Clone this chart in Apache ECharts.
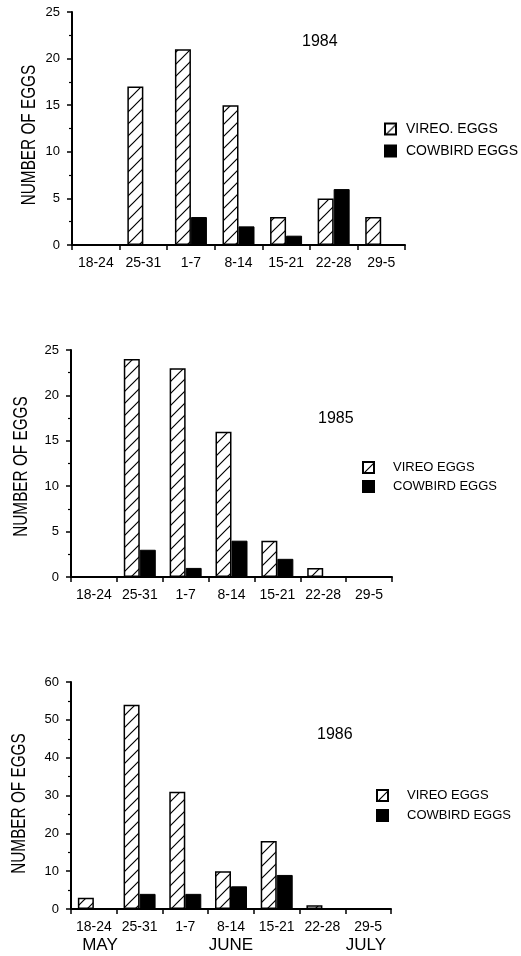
<!DOCTYPE html>
<html>
<head>
<meta charset="utf-8">
<script src="https://cdn.jsdelivr.net/npm/echarts@6/dist/echarts.min.js"></script>
<style>
html,body{margin:0;padding:0;background:#fff;}
#c{width:521px;height:956px;}
</style>
</head>
<body>
<div id="c"></div>
<script>
// ---- data ----
const categories = ['18-24', '25-31', '1-7', '8-14', '15-21', '22-28', '29-5'];
const years = ['1984', '1985', '1986'];
const vireo1984 = [0, 17, 21, 15, 3, 5, 3];
const cowbird1984 = [0, 0, 3, 2, 1, 6, 0];
const vireo1985 = [0, 24, 23, 16, 4, 1, 0];
const cowbird1985 = [0, 3, 1, 4, 2, 0, 0];
const vireo1986 = [3, 54, 31, 10, 18, 1, 0];
const cowbird1986 = [0, 4, 4, 6, 9, 0, 0];
const yMax = [25, 25, 60];
const yInterval = [5, 5, 10];
const months = ['MAY', 'JUNE', 'JULY'];
const vireoNames = ['VIREO. EGGS', 'VIREO EGGS', 'VIREO EGGS'];
const cowbirdName = 'COWBIRD EGGS';
const yTitle = 'NUMBER OF EGGS';

// ---- layout ----
const grids = [
  {left: 72, top: 12, width: 333, height: 233},
  {left: 71, top: 350, width: 321, height: 227},
  {left: 71, top: 682, width: 320, height: 227}
];
const titlePos = [{left: 302, top: 34}, {left: 318, top: 411}, {left: 317, top: 727}];
const legendPos = [
  {left: 384, top: 122, gap: 8, pad: 5, size: 14},
  {left: 362, top: 461, gap: 6, pad: 14, size: 13},
  {left: 376, top: 789, gap: 7, pad: 14, size: 13}
];
const yTitlePos = [{x: 29.5, y: 135}, {x: 21, y: 466.5}, {x: 19, y: 803.5}];
const monthX = [100, 231, 366];

// hatch pattern
function hatch() {
  const s = 12;
  const cv = document.createElement('canvas');
  cv.width = s; cv.height = s;
  const ctx = cv.getContext('2d');
  ctx.fillStyle = '#fff';
  ctx.fillRect(0, 0, s, s);
  ctx.strokeStyle = '#000';
  ctx.lineWidth = 1.2;
  ctx.beginPath();
  ctx.moveTo(-2, s + 2); ctx.lineTo(s + 2, -2);
  ctx.moveTo(-2, 2); ctx.lineTo(2, -2);
  ctx.moveTo(s - 2, s + 2); ctx.lineTo(s + 2, s - 2);
  ctx.stroke();
  return {image: cv, repeat: 'repeat'};
}
const hatchFill = hatch();

const vireoData = [vireo1984, vireo1985, vireo1986];
const cowbirdData = [cowbird1984, cowbird1985, cowbird1986];

const FONT = 'Liberation Sans, Arial, Helvetica, sans-serif';

const option = {
  animation: false,
  backgroundColor: '#fff',
  textStyle: {fontFamily: FONT, color: '#000'},
  title: years.map((y, i) => ({
    text: y, left: titlePos[i].left, top: titlePos[i].top, padding: 0,
    textStyle: {fontFamily: FONT, fontSize: 16, fontWeight: 'normal', color: '#000'}
  })),
  legend: years.map((y, i) => ({
    data: [vireoNames[i], cowbirdName],
    orient: 'vertical',
    left: legendPos[i].left, top: legendPos[i].top, padding: 0,
    itemWidth: 11, itemHeight: 11, itemGap: legendPos[i].gap,
    icon: 'rect',
    selectedMode: false,
    textStyle: {fontFamily: FONT, fontSize: legendPos[i].size, color: '#000', lineHeight: 12,
      padding: [0, 0, 0, legendPos[i].pad]}
  })),
  grid: grids.map(g => Object.assign({containLabel: false}, g)),
  xAxis: years.map((y, i) => ({
    type: 'category', gridIndex: i, data: categories,
    axisLine: {lineStyle: {color: '#000', width: 2}},
    axisTick: {show: true, length: 5, lineStyle: {color: '#000', width: 1.5}},
    axisLabel: {interval: 0, margin: 11, fontFamily: FONT, fontSize: 14, color: '#000'},
    splitLine: {show: false}
  })),
  yAxis: years.map((y, i) => ({
    type: 'value', gridIndex: i, min: 0, max: yMax[i], interval: yInterval[i],
    axisLine: {show: true, lineStyle: {color: '#000', width: 2}},
    axisTick: {show: true, length: 5, lineStyle: {color: '#000', width: 1.5}},
    minorTick: {show: true, splitNumber: 2, length: 3, lineStyle: {color: '#000', width: 1.2}},
    axisLabel: {margin: 12, fontFamily: FONT, fontSize: 13, color: '#000'},
    splitLine: {show: false}
  })),
  series: [].concat(...years.map((y, i) => [
    {
      type: 'bar', name: vireoNames[i], xAxisIndex: i, yAxisIndex: i,
      data: vireoData[i], barWidth: 16, barGap: '0%',
      itemStyle: {color: hatchFill, borderColor: '#000', borderWidth: 1.5}
    },
    {
      type: 'bar', name: cowbirdName, xAxisIndex: i, yAxisIndex: i,
      data: cowbirdData[i], barWidth: 16, barGap: '0%',
      itemStyle: {color: '#000', borderColor: '#000', borderWidth: 1}
    }
  ])),
  graphic: months.map((m, k) => ({
    type: 'text', x: monthX[k], y: 945,
    style: {text: m, fontFamily: FONT, fontSize: 17, fill: '#000', align: 'center', verticalAlign: 'middle'}
  })).concat(yTitlePos.map(p => ({
    type: 'text', x: p.x, y: p.y, rotation: Math.PI / 2, scaleX: 0.73, scaleY: 1,
    style: {text: yTitle, fontFamily: FONT, fontSize: 21, fill: '#000', align: 'center', verticalAlign: 'middle'}
  })))
};

const chart = echarts.init(document.getElementById('c'), null, {renderer: 'canvas'});
chart.setOption(option);
</script>
</body>
</html>
